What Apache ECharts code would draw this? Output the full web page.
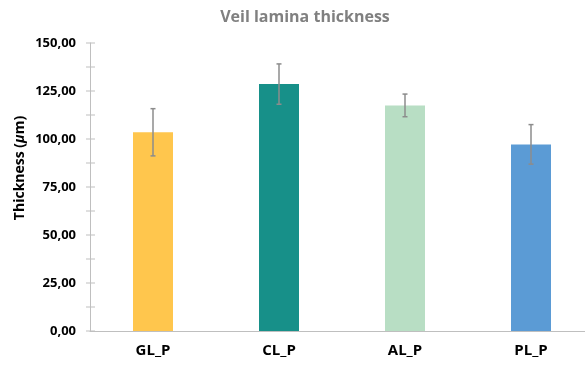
<!DOCTYPE html>
<html>
<head>
<meta charset="utf-8">
<script src="https://cdn.jsdelivr.net/npm/echarts@6/dist/echarts.min.js"></script>
<style>
  html, body { margin: 0; padding: 0; background: #fff; }
  #chart { width: 585px; height: 367px; }
</style>
</head>
<body>
<div id="chart"></div>
<script>
const categories = ["GL_P", "CL_P", "AL_P", "PL_P"];
const thickness = [103.5, 128.6, 117.5, 97.2];
const errors = [12.3, 10.5, 5.9, 10.3];
const barColors = ["#FFC64D", "#179089", "#B8DEC4", "#5B9BD5"];

const chart = echarts.init(document.getElementById("chart"), null, { renderer: "canvas" });
const font = "'Open Sans', 'DejaVu Sans', sans-serif";

const option = {
  animation: false,
  title: {
    text: "Veil lamina thickness",
    left: 300,
    textAlign: "center",
    top: 4,
    textStyle: { color: "#808080", fontSize: 16, fontWeight: "bold", fontFamily: font },
  },
  graphic: [
    {
      type: "text",
      x: 20,
      y: 168,
      rotation: Math.PI / 2,
      style: {
        text: "Thickness ({i|μ}m)",
        fill: "#000",
        font: "bold 14px " + font,
        align: "center",
        verticalAlign: "middle",
        rich: { i: { fontStyle: "italic", fontWeight: "bold", fontSize: 14, fontFamily: font } },
      },
    },
  ],
  grid: { left: 90, right: -9, top: 43, bottom: 36, containLabel: false, outerBoundsMode: "none" },
  xAxis: {
    type: "category",
    data: categories,
    axisLine: { lineStyle: { color: "#bfbfbf", width: 1 } },
    axisTick: { show: false },
    axisLabel: { color: "#000", fontSize: 15, fontWeight: "bold", fontFamily: font, margin: 12 },
  },
  yAxis: {
    type: "value",
    min: 0,
    max: 150,
    interval: 25,
    axisLine: { show: true, lineStyle: { color: "#bfbfbf" } },
    axisTick: { show: false },
    splitLine: { show: false },
    axisLabel: {
      color: "#000",
      fontSize: 13,
      fontWeight: "bold",
      fontFamily: font,
      margin: 14,
      formatter: (v) => v.toFixed(2).replace(".", ","),
    },
  },
  series: [
    {
      type: "bar",
      barWidth: 40,
      data: thickness.map((v, i) => ({ value: v, itemStyle: { color: barColors[i] } })),
    },
    {
      // crossing tick marks on the y axis, every 12.5
      type: "custom",
      silent: true,
      data: [0],
      renderItem: (params, api) => {
        const children = [];
        for (let t = 0; t <= 150; t += 12.5) {
          const p = api.coord([0, t]);
          const x0 = params.coordSys.x;
          children.push({
            type: "line",
            shape: { x1: x0 - 4, y1: p[1], x2: x0 + 5, y2: p[1] },
            style: { stroke: "#bfbfbf", lineWidth: 1 },
          });
        }
        return { type: "group", children };
      },
    },
    {
      type: "custom",
      silent: true,
      data: thickness.map((v, i) => [i, v - errors[i], v + errors[i]]),
      renderItem: (params, api) => {
        const lo = api.coord([api.value(0), api.value(1)]);
        const hi = api.coord([api.value(0), api.value(2)]);
        const style = { stroke: "#8c8c8c", lineWidth: 1.5 };
        return {
          type: "group",
          children: [
            { type: "line", shape: { x1: lo[0], y1: lo[1], x2: hi[0], y2: hi[1] }, style },
            { type: "line", shape: { x1: lo[0] - 2.5, y1: lo[1], x2: lo[0] + 2.5, y2: lo[1] }, style },
            { type: "line", shape: { x1: hi[0] - 2.5, y1: hi[1], x2: hi[0] + 2.5, y2: hi[1] }, style },
          ],
        };
      },
      z: 5,
    },
  ],
};

chart.setOption(option);
</script>
</body>
</html>
